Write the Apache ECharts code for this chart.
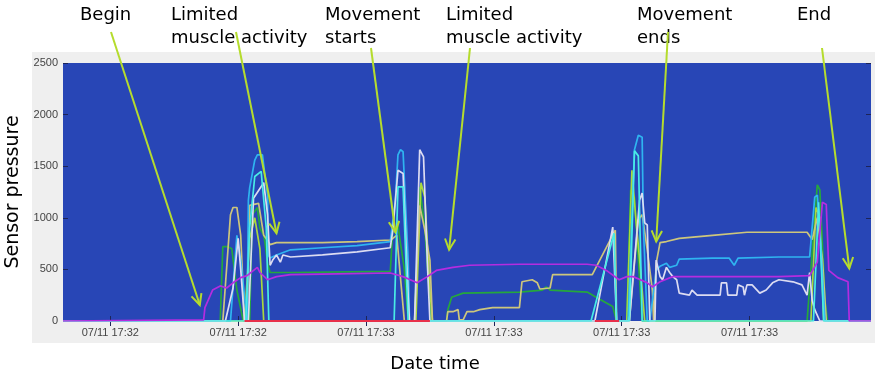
<!DOCTYPE html>
<html>
<head>
<meta charset="utf-8">
<script src="https://cdn.jsdelivr.net/npm/echarts@6/dist/echarts.min.js"></script>
<style>
  html, body { margin: 0; background: #fff; }
  #chart { width: 875px; height: 376px; }
</style>
</head>
<body>
<div id="chart"></div>
<script>
// x = seconds after 17:32:00, y = sensor pressure
const tickTimes = [40, 50, 60, 70, 80, 90]
const tickLabels = ['07/11 17:32', '07/11 17:32', '07/11 17:33', '07/11 17:33', '07/11 17:33', '07/11 17:33']

const purple = [[36.3,0],[47.3,10],[47.4,130],[48.0,300],[48.6,340],[49.1,320],[49.6,370],[50.2,420],[50.7,440],[51.5,520],[51.7,470],[52.3,400],[53.0,430],[54.1,450],[56.6,455],[61.9,465],[62.9,430],[64.0,370],[64.8,430],[65.5,490],[66.8,520],[68.1,540],[72.0,550],[77.3,550],[78.0,540],[78.8,490],[79.8,400],[80.4,430],[80.9,430],[82.0,370],[82.4,330],[83.0,380],[84.0,430],[87.1,430],[92.3,430],[94.7,440],[95.3,570],[95.7,1150],[96.0,1130],[96.2,490],[96.9,420],[97.7,380],[97.8,0],[99.5,0]]
const khaki = [[36.3,0],[48.8,0],[49.4,1030],[49.6,1100],[49.9,1100],[50.2,830],[50.5,0],[50.7,0],[50.9,1120],[51.6,1140],[52.0,830],[52.3,780],[52.5,740],[53.0,760],[56.6,760],[59.3,770],[61.9,785],[62.1,800],[62.4,830],[63.0,0],[63.8,0],[64.2,1120],[64.6,880],[65.0,590],[65.2,0],[66.3,0],[66.4,90],[66.8,90],[67.2,110],[67.3,10],[67.6,10],[67.9,90],[68.4,90],[68.9,110],[69.9,130],[72.0,130],[72.2,380],[73.0,400],[73.4,370],[73.6,310],[74.4,320],[74.6,450],[77.7,450],[79.5,880],[79.6,0],[80.6,0],[81.3,980],[81.6,1030],[82.0,690],[82.4,300],[82.5,0],[82.6,0],[82.7,560],[83.0,760],[83.5,770],[84.5,800],[87.1,830],[89.8,860],[94.5,860],[94.9,790],[95.3,1000],[95.7,600],[96.0,0],[99.5,0]]
const sky = [[36.3,0],[49.4,0],[49.9,830],[50.2,590],[50.7,0],[50.8,1170],[50.9,1290],[51.3,1560],[51.5,1610],[51.9,1610],[52.1,1410],[52.3,1220],[52.35,640],[52.5,610],[53.0,640],[54.1,690],[56.6,710],[59.3,730],[61.9,770],[62.3,1170],[62.5,1610],[62.7,1660],[62.9,1640],[63.0,1370],[63.3,590],[63.4,0],[80.5,0],[81.0,1660],[81.3,1800],[81.6,1780],[81.7,900],[82.0,0],[82.2,0],[82.7,490],[83.0,530],[83.5,560],[83.75,520],[84.3,540],[84.5,600],[87.1,610],[88.4,610],[88.8,540],[89.1,610],[92.3,620],[94.7,620],[95.1,1200],[95.3,1220],[95.5,900],[95.9,0],[99.5,0]]
const white = [[36.3,0],[49.0,0],[49.6,320],[50.0,800],[50.2,500],[50.5,0],[50.8,0],[51.2,1190],[52.0,1340],[52.3,1030],[52.5,540],[52.7,590],[53.0,640],[53.3,570],[53.5,640],[54.1,620],[56.6,640],[59.3,670],[61.9,710],[62.1,880],[62.5,1460],[62.9,1430],[63.3,230],[63.4,0],[63.8,0],[64.2,1660],[64.5,1590],[64.8,560],[65.0,0],[77.9,0],[79.3,910],[79.6,0],[80.6,0],[81.4,1170],[81.6,1240],[81.8,950],[82.0,930],[82.2,0],[82.6,0],[82.7,590],[83.0,430],[83.2,400],[83.5,520],[83.75,470],[84.0,430],[84.3,400],[84.5,270],[85.3,250],[85.5,300],[85.9,250],[87.7,250],[87.8,370],[88.2,370],[88.3,250],[89.0,250],[89.1,350],[89.5,330],[89.6,250],[89.8,350],[90.2,350],[90.8,270],[91.3,300],[91.8,370],[92.3,400],[93.4,380],[94.1,350],[94.5,250],[94.7,470],[94.9,200],[95.1,110],[95.5,0],[99.5,0]]
const green = [[36.3,0],[48.6,0],[48.8,720],[49.2,720],[49.5,700],[49.9,300],[50.4,0],[50.9,0],[51.1,1030],[51.5,1100],[51.7,900],[52.0,830],[52.1,760],[52.3,560],[52.5,470],[54.1,470],[61.9,480],[62.1,900],[62.5,920],[63.0,500],[63.3,0],[63.8,0],[64.2,1300],[64.6,900],[65.1,0],[66.3,0],[66.4,110],[66.7,230],[67.6,270],[72.0,280],[73.8,300],[74.1,330],[74.4,300],[77.3,280],[78.0,230],[79.3,140],[79.6,0],[80.4,0],[80.7,1270],[81.0,1200],[81.3,600],[81.6,0],[94.5,0],[95.3,1320],[95.5,1270],[95.9,200],[96.1,0],[99.5,0]]
const lime = [[36.3,0],[50.5,0],[50.9,800],[51.3,1000],[51.7,700],[52.0,0],[63.9,0],[64.3,1340],[64.6,1200],[65.0,300],[65.2,0],[80.4,0],[80.8,1460],[81.1,1000],[81.4,600],[81.8,0],[94.8,0],[95.2,1100],[95.5,1000],[95.8,0],[99.5,0]]
const cyan = [[36.3,0],[50.6,0],[50.9,900],[51.3,1400],[51.8,1450],[52.2,900],[52.4,0],[62.2,0],[62.5,1300],[62.9,1300],[63.3,0],[77.6,0],[79.4,850],[79.6,0],[80.6,0],[81.0,1650],[81.3,1600],[81.6,0],[95.0,0],[95.4,1150],[95.8,0],[99.5,0]]
const red = [[50.5,0],[65.0,0],[71,'-'],[77.9,0],[79.8,0]]

const noteTexts = ['Begin', 'Limited\nmuscle activity', 'Movement\nstarts', 'Limited\nmuscle activity', 'Movement\nends', 'End']
const noteTips = [[47.0,155],[53.0,850],[62.3,860],[66.5,690],[82.7,770],[97.8,510]]

// annotation layout (pixels)
const noteTextPos = [[80,4],[171,4],[325,4],[446,4],[637,4],[797,4]]
const noteStart = [[111,32],[236,32],[371,48],[470,48],[668,32],[822,48]]

const chart = echarts.init(document.getElementById('chart'))

const tickStyle = { show: true, inside: true, length: 5, lineStyle: { color: '#1c2458', width: 1 } }

function line(name, data, color, width) {
  return {
    name: name, type: 'line', data: data, showSymbol: false, symbol: 'none',
    lineStyle: { color: color, width: width || 1.7 }, itemStyle: { color: color },
    connectNulls: false, silent: true
  }
}

chart.setOption({
  animation: false,
  grid: {
    left: 63, top: 63, right: 4, bottom: 55, show: true, backgroundColor: '#2846b6', borderWidth: 0,
    outerBoundsMode: 'none', containLabel: false
  },
  xAxis: [
    {
      type: 'value', min: 36.3, max: 99.5, position: 'bottom',
      splitLine: { show: false }, axisLine: { show: false },
      axisTick: Object.assign({ customValues: tickTimes }, tickStyle),
      axisLabel: {
        customValues: tickTimes, margin: 6, color: '#444', fontSize: 11, fontFamily: 'Liberation Sans',
        formatter: v => tickLabels[tickTimes.indexOf(v)]
      }
    },
    {
      type: 'value', min: 36.3, max: 99.5, position: 'top',
      splitLine: { show: false }, axisLine: { show: false }, axisLabel: { show: false },
      axisTick: Object.assign({ customValues: tickTimes }, tickStyle)
    }
  ],
  yAxis: [
    {
      type: 'value', min: 0, max: 2500, interval: 500, position: 'left',
      name: 'Sensor pressure', nameLocation: 'middle', nameGap: 30, nameRotate: 90,
      nameTextStyle: { fontFamily: 'DejaVu Sans', fontSize: 19, color: '#000' },
      splitLine: { show: false }, axisLine: { show: false }, axisTick: tickStyle,
      axisLabel: { margin: 5, color: '#444', fontSize: 11, fontFamily: 'Liberation Sans', formatter: v => String(v) }
    },
    {
      type: 'value', min: 0, max: 2500, interval: 500, position: 'right',
      splitLine: { show: false }, axisLine: { show: false }, axisLabel: { show: false }, axisTick: tickStyle
    }
  ],
  series: [
    line('green', green, '#25a83c'),
    line('lime', lime, '#a9d83e'),
    line('khaki', khaki, '#cdc67c'),
    line('sky', sky, '#2fb4f0'),
    line('white', white, '#dcdcf2'),
    line('cyan', cyan, '#48ece6'),
    line('red', red, '#e8304a', 2),
    line('purple', purple, '#b52ce0')
  ]
})

// annotations: text, arrow shaft from text to the data point, open arrowhead
const graphics = [
  { type: 'rect', shape: { x: 32, y: 52, width: 843, height: 291 }, style: { fill: '#efefef' }, z: -10, silent: true },
  {
    type: 'text', x: 435, y: 364, silent: true,
    style: { text: 'Date time', fill: '#000', font: '18px "DejaVu Sans"', align: 'center', verticalAlign: 'middle' }
  }
]
noteTexts.forEach((t, i) => {
  graphics.push({
    type: 'text', x: noteTextPos[i][0], y: noteTextPos[i][1], z: 100, silent: true,
    style: { text: t, fill: '#000', font: '18px "DejaVu Sans"', lineHeight: 23 }
  })
  const tip = chart.convertToPixel({ gridIndex: 0 }, noteTips[i])
  const s = noteStart[i]
  const ang = Math.atan2(tip[1] - s[1], tip[0] - s[0])
  const L = 12, spread = 0.45
  const p1 = [tip[0] - L * Math.cos(ang - spread), tip[1] - L * Math.sin(ang - spread)]
  const p2 = [tip[0] - L * Math.cos(ang + spread), tip[1] - L * Math.sin(ang + spread)]
  const style = { stroke: '#b5dc2d', lineWidth: 2, fill: null }
  graphics.push({ type: 'line', z: 100, silent: true, shape: { x1: s[0], y1: s[1], x2: tip[0], y2: tip[1] }, style: style })
  graphics.push({ type: 'polyline', z: 100, silent: true, shape: { points: [p1, tip, p2] }, style: style })
})
chart.setOption({ graphic: graphics })
</script>
</body>
</html>
